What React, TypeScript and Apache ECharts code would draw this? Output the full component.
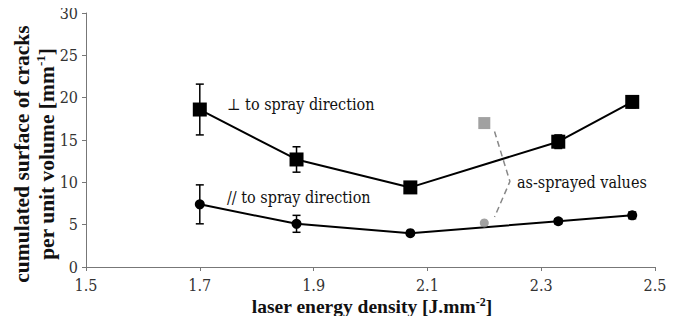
import React, { useEffect, useRef } from "react";
import * as echarts from "echarts";

const energyPerp = [1.7, 1.87, 2.07, 2.33, 2.46];
const crackPerp = [18.6, 12.7, 9.4, 14.8, 19.5];
const errPerp = [3.0, 1.5, 0.6, 0.8, 0.7];

const energyPar = [1.7, 1.87, 2.07, 2.33, 2.46];
const crackPar = [7.4, 5.1, 4.0, 5.4, 6.1];
const errPar = [2.3, 1.0, 0.2, 0.3, 0.4];

const asSprayedEnergy = [2.2, 2.2];
const asSprayedCrack = [17.0, 5.2];

const connectorX = [2.218, 2.245, 2.218];
const connectorY = [16.0, 10.1, 5.9];

const xTicks = [1.5, 1.7, 1.9, 2.1, 2.3, 2.5];

const BOLD_FONT = "Liberation Serif";
const FONT = "DejaVu Serif Condensed";

export default function App() {
  const ref = useRef<HTMLDivElement>(null);
  useEffect(() => {
    if (!ref.current) return;
    const chart = echarts.init(ref.current, null, { renderer: "svg" });
    const errData = (xs: number[], ys: number[], es: number[]) =>
      xs.map((x, i) => [x, ys[i] - es[i], ys[i] + es[i]]);
    const renderErr = (params: any, api: any) => {
      const x = api.value(0);
      const lo = api.coord([x, api.value(1)]);
      const hi = api.coord([x, api.value(2)]);
      const cap = 4;
      const style = { stroke: "#000", lineWidth: 1.5 };
      return {
        type: "group",
        children: [
          { type: "line", shape: { x1: lo[0], y1: lo[1], x2: hi[0], y2: hi[1] }, style },
          { type: "line", shape: { x1: lo[0] - cap, y1: lo[1], x2: lo[0] + cap, y2: lo[1] }, style },
          { type: "line", shape: { x1: hi[0] - cap, y1: hi[1], x2: hi[0] + cap, y2: hi[1] }, style },
        ],
      };
    };
    const annot = (text: string, x: number, y: number) => ({
      type: "text",
      x,
      y,
      style: {
        text,
        fontFamily: FONT,
        fontWeight: "normal",
        fontSize: 16,
        fill: "#111",
        verticalAlign: "middle",
      },
    });
    chart.setOption({
      animation: false,
      grid: { left: 86, right: 21, top: 13, bottom: 57 },
      xAxis: {
        type: "value",
        min: 1.5,
        max: 2.5,
        splitLine: { show: false },
        axisLine: { lineStyle: { color: "#777", width: 1 } },
        axisTick: { show: true, length: 4, customValues: xTicks, lineStyle: { color: "#777" } },
        axisLabel: {
          customValues: xTicks,
          formatter: (v: number) => v.toFixed(1),
          fontFamily: FONT,
          fontSize: 16,
          color: "#333",
          margin: 10,
        },
      },
      yAxis: {
        type: "value",
        min: 0,
        max: 30,
        interval: 5,
        splitLine: { show: false },
        axisLine: { show: true, lineStyle: { color: "#777", width: 1 } },
        axisTick: { show: true, length: 4, lineStyle: { color: "#777" } },
        axisLabel: { fontFamily: FONT, fontSize: 16, color: "#333", margin: 8 },
      },
      series: [
        {
          type: "custom",
          renderItem: renderErr,
          data: errData(energyPerp, crackPerp, errPerp),
          z: 2,
        },
        {
          type: "custom",
          renderItem: renderErr,
          data: errData(energyPar, crackPar, errPar),
          z: 2,
        },
        {
          type: "line",
          data: energyPerp.map((x, i) => [x, crackPerp[i]]),
          symbol: "rect",
          symbolSize: 14,
          showAllSymbol: true,
          lineStyle: { color: "#000", width: 2 },
          itemStyle: { color: "#000" },
          z: 3,
        },
        {
          type: "line",
          data: energyPar.map((x, i) => [x, crackPar[i]]),
          symbol: "circle",
          symbolSize: 10,
          lineStyle: { color: "#000", width: 2 },
          itemStyle: { color: "#000" },
          z: 3,
        },
        {
          type: "line",
          data: connectorX.map((x, i) => [x, connectorY[i]]),
          symbol: "none",
          lineStyle: { color: "#888", width: 1.5, type: [6, 4] },
          z: 4,
        },
        {
          type: "scatter",
          data: [[asSprayedEnergy[0], asSprayedCrack[0]]],
          symbol: "rect",
          symbolSize: 12,
          itemStyle: { color: "#8a8a8a" },
          z: 5,
        },
        {
          type: "scatter",
          data: [[asSprayedEnergy[1], asSprayedCrack[1]]],
          symbol: "circle",
          symbolSize: 9,
          itemStyle: { color: "#8a8a8a" },
          z: 5,
        },
      ],
      graphic: [
        {
          type: "text",
          x: 34,
          y: 154,
          rotation: Math.PI / 2,
          style: {
            text: "cumulated surface of cracks\nper unit volume [mm{sup|-1}]",
            fontFamily: BOLD_FONT,
            fontWeight: "bold",
            fontSize: 21.5,
            fill: "#111",
            align: "center",
            verticalAlign: "middle",
            lineHeight: 25,
            rich: {
              sup: { fontSize: 13, fontWeight: "bold", fontFamily: BOLD_FONT, verticalAlign: "top", lineHeight: 25 },
            },
          },
        },
        {
          type: "text",
          x: 372,
          y: 306,
          style: {
            text: "laser energy density [J.mm{sup|-2}]",
            fontFamily: BOLD_FONT,
            fontWeight: "bold",
            fontSize: 19.5,
            fill: "#111",
            align: "center",
            verticalAlign: "middle",
            rich: {
              sup: { fontSize: 12, fontWeight: "bold", fontFamily: BOLD_FONT, verticalAlign: "top" },
            },
          },
        },
        annot("⊥ to spray direction", 227, 104),
        annot("// to spray direction", 227, 197),
        annot("as-sprayed values", 517, 182),
      ],
    });
    return () => chart.dispose();
  }, []);
  return <div ref={ref} style={{ width: 676, height: 324, margin: -8 }} />;
}
